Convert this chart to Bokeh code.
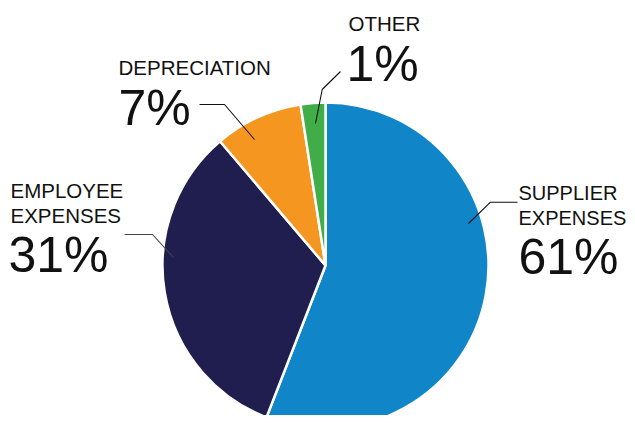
import numpy as np
from bokeh.plotting import figure
from bokeh.models import Range1d
from bokeh.core.properties import value
from bokeh.embed import file_html
from bokeh.resources import INLINE

# ---- data ----
categories = ["SUPPLIER\nEXPENSES", "EMPLOYEE\nEXPENSES", "DEPRECIATION", "OTHER"]
shares = [55.9, 32.9, 8.75, 2.45]          # slice sizes as drawn
pct_labels = ["61%", "31%", "7%", "1%"]     # labels printed on the chart
colors = ["#1086C8", "#1F1E4E", "#F59620", "#41AD49"]

# ---- layout (image pixel coords, y measured downward) ----
W, H = 627, 415
def Y(yp):
    return H - yp

cx, cy, R = 325, 265, 163

p = figure(width=W, height=H, output_backend="svg", toolbar_location=None,
           x_range=Range1d(0, W), y_range=Range1d(0, H),
           min_border=0, outline_line_color=None)
p.axis.visible = False
p.grid.visible = False
p.background_fill_color = "white"
p.border_fill_color = "white"

frac = np.array(shares) / np.sum(shares)
cum = np.concatenate([[0], np.cumsum(frac)])
starts = np.pi / 2 - cum[1:] * 2 * np.pi
ends = np.pi / 2 - cum[:-1] * 2 * np.pi
p.wedge(x=[cx] * len(shares), y=[Y(cy)] * len(shares), radius=R, radius_units="screen",
        start_angle=list(starts), end_angle=list(ends), direction="anticlock",
        fill_color=colors, line_color="white", line_width=2.5)

# leader lines
leaders = [
    [(468, 223), (490, 201.7), (517, 201.7)],
    [(173, 257), (152, 234), (124, 234)],
    [(254, 139), (224, 104), (199, 104)],
    [(315, 123), (321.7, 89), (340, 71)],
]
p.multi_line(xs=[[a[0] for a in l] for l in leaders],
             ys=[[Y(a[1]) for a in l] for l in leaders],
             line_color=["#111111", "#444444", "#111111", "#111111"], line_width=1.1)

FONT = value("Liberation Sans")
BASE_FIX = 0.38  # renderer places the alphabetic baseline lower; compensate
# name labels: (x, baseline of first line, font px)
name_pos = [(518, 200, 20), (10, 198, 20.5), (118, 75, 20.5), (348, 31, 20.5)]
pct_pos = [(518, 275), (8, 273), (118, 126), (346, 82)]
line_gap = 25

for name, (x, yb, fs) in zip(categories, name_pos):
    for i, part in enumerate(name.split("\n")):
        p.text(x=[x], y=[Y(yb + i * line_gap - BASE_FIX * fs)], text=[part], text_font=FONT,
               text_font_size=f"{fs}px", text_color="#111111",
               text_baseline="alphabetic", text_align="left")

for lab, (x, yb) in zip(pct_labels, pct_pos):
    p.text(x=[x], y=[Y(yb - BASE_FIX * 50)], text=[lab], text_font=FONT,
           text_font_size="50px", text_color="#111111",
           text_baseline="alphabetic", text_align="left")

open("out.html", "w").write(file_html(p, INLINE))
